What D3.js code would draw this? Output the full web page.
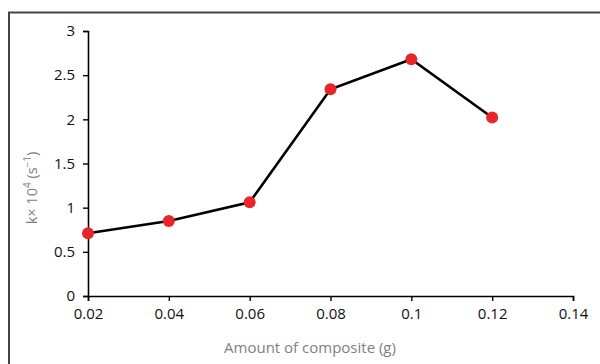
<!DOCTYPE html>
<html><head><meta charset="utf-8">
<script src="https://cdn.jsdelivr.net/npm/d3@7"></script>
<style>body{margin:0;background:#fff;}svg{display:block;}</style>
</head><body>
<svg id="c" width="600" height="364"></svg>
<script>
const amounts = [0.02, 0.04, 0.06, 0.08, 0.1, 0.12];
const kValues = [0.71, 0.85, 1.06, 2.34, 2.68, 2.02];
const xTicks = [0.02, 0.04, 0.06, 0.08, 0.1, 0.12, 0.14];
const yTicks = [0, 0.5, 1, 1.5, 2, 2.5, 3];

const svg = d3.select("#c");
const font = "'Open Sans', 'Noto Sans', sans-serif";
svg.append("rect").attr("x",9).attr("y",12.5).attr("width",620).attr("height",400)
  .attr("fill","none").attr("stroke","#444").attr("stroke-width",2);

const x = d3.scaleLinear().domain([0.02,0.14]).range([88,573]);
const y = d3.scaleLinear().domain([0,3]).range([296,31]);

const gx = svg.append("g").attr("transform","translate(0,296)")
  .call(d3.axisBottom(x).tickValues(xTicks).tickFormat(d3.format("~g")).tickSizeOuter(0).tickSize(5).tickPadding(7));
const gy = svg.append("g").attr("transform","translate(88,0)")
  .call(d3.axisLeft(y).tickValues(yTicks).tickFormat(d3.format("~g")).tickSizeOuter(0).tickSize(5).tickPadding(8));
[gx,gy].forEach(g=>{
  g.attr("font-size",15).attr("font-family",font);
  g.select(".domain").attr("stroke","#000").attr("stroke-width",1.6);
  g.selectAll(".tick line").attr("stroke","#000").attr("stroke-width",1.4);
  g.selectAll(".tick text").attr("fill","#111").style("font-size","15px");
});

svg.append("path").datum(amounts.map((a,i)=>[a,kValues[i]]))
  .attr("fill","none").attr("stroke","#000").attr("stroke-width",2.6)
  .attr("d", d3.line().x(d=>x(d[0])).y(d=>y(d[1])));
svg.selectAll("circle.pt").data(amounts.map((a,i)=>[a,kValues[i]])).enter()
  .append("circle").attr("class","pt").attr("cx",d=>x(d[0])).attr("cy",d=>y(d[1]))
  .attr("r",6).attr("fill","#e8262a");

svg.append("text").attr("x",310).attr("y",353).attr("text-anchor","middle")
  .attr("fill","#808080").attr("font-family",font).attr("font-size",15)
  .text("Amount of composite (g)");

const yl = svg.append("text").attr("transform","translate(37,188) rotate(-90)")
  .attr("text-anchor","middle").attr("fill","#808080").attr("font-family",font).attr("font-size",14.5);
yl.append("tspan").text("k× 10");
yl.append("tspan").attr("dy",-6).attr("font-size",10).text("4");
yl.append("tspan").attr("dy",6).text(" (s");
yl.append("tspan").attr("dy",-6).attr("font-size",10).text("−1");
yl.append("tspan").attr("dy",6).text(")");
</script>
</body></html>
